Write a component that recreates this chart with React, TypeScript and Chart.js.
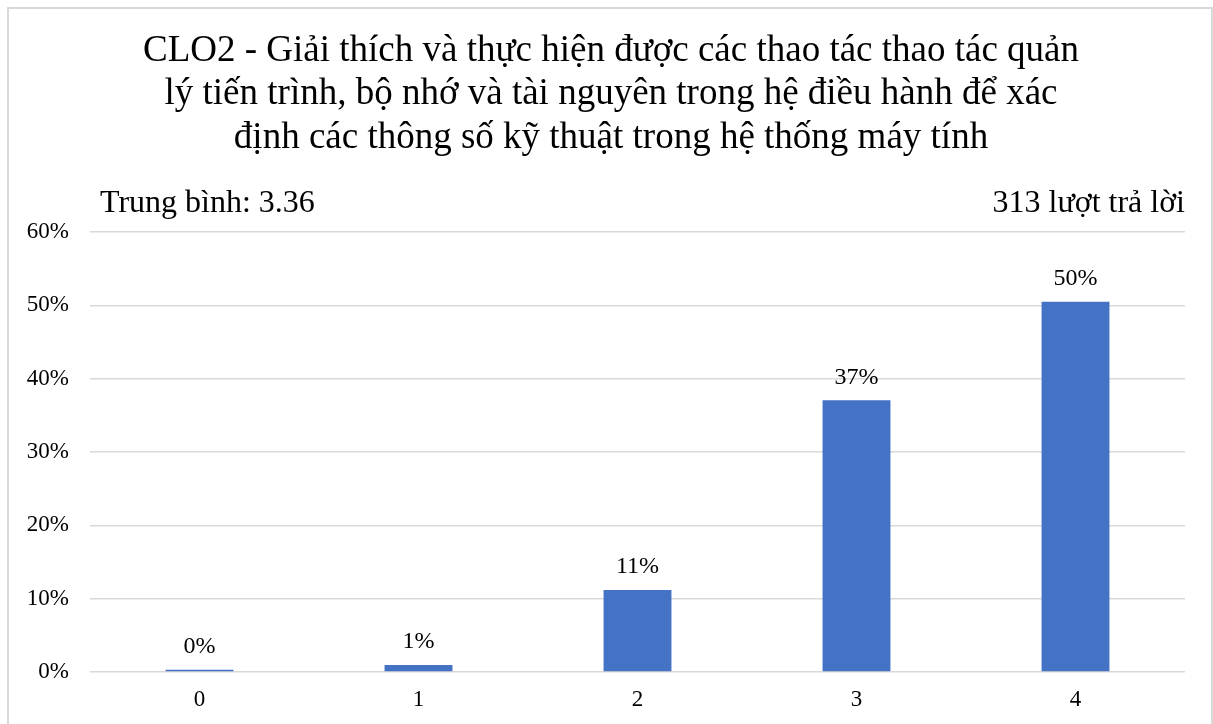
import React, { useEffect, useRef } from "react";
import { Chart, registerables } from "chart.js";

Chart.register(...registerables);

// Answer scores and the share of responses (in %) for each score
const categories = ["0", "1", "2", "3", "4"];
const shares = [0.32, 0.96, 11.18, 37.06, 50.48];

// Y axis range in %
const yMin = 0;
const yMax = 60;
const yStep = 10;

const titleLines = [
  "CLO2 - Giải thích và thực hiện được các thao tác thao tác quản",
  "lý tiến trình, bộ nhớ và tài nguyên trong hệ điều hành để xác",
  "định các thông số kỹ thuật trong hệ thống máy tính",
];
const meanLabel = "Trung bình: 3.36";
const responsesLabel = "313 lượt trả lời";

const SERIF = "'Liberation Serif', 'Times New Roman', serif";
const BAR_COLOR = "#4472C4";
const GRID_COLOR = "#d9d9d9";

const annotations = {
  id: "annotations",
  afterDatasetsDraw(chart: any) {
    const { ctx } = chart;
    const meta = chart.getDatasetMeta(0);
    ctx.save();
    ctx.fillStyle = "#000";
    ctx.font = `24px ${SERIF}`;
    ctx.textAlign = "center";
    ctx.textBaseline = "middle";
    meta.data.forEach((bar: any, i: number) => {
      const v = chart.data.datasets[0].data[i] as number;
      ctx.fillText(`${Math.round(v)}%`, bar.x, bar.y - 23);
    });
    ctx.restore();
  },
  afterDraw(chart: any) {
    const { ctx, chartArea } = chart;
    ctx.save();
    ctx.fillStyle = "#000";
    ctx.textBaseline = "middle";
    ctx.textAlign = "center";
    ctx.font = `37px ${SERIF}`;
    titleLines.forEach((line, i) => {
      ctx.fillText(line, 611, 51 + i * 43.5);
    });
    ctx.font = `32px ${SERIF}`;
    ctx.textAlign = "left";
    ctx.fillText(meanLabel, 100, 204);
    ctx.textAlign = "right";
    ctx.fillText(responsesLabel, chartArea.right, 204);
    ctx.restore();
  },
};

export default function App() {
  const canvasRef = useRef<HTMLCanvasElement | null>(null);

  useEffect(() => {
    if (!canvasRef.current) return;
    const chart = new Chart(canvasRef.current, {
      type: "bar",
      data: {
        labels: categories,
        datasets: [
          {
            data: shares,
            backgroundColor: BAR_COLOR,
            borderWidth: 0,
            categoryPercentage: 0.62,
            barPercentage: 0.5,
          },
        ],
      },
      options: {
        animation: false,
        responsive: false,
        maintainAspectRatio: false,
        layout: { padding: { left: 8, right: 28, top: 232, bottom: 0 } },
        plugins: {
          legend: { display: false },
          title: { display: false },
          tooltip: { enabled: false },
        },
        scales: {
          x: {
            grid: { display: false, drawTicks: false },
            border: { display: false },
            ticks: {
              color: "#000",
              font: { family: SERIF, size: 23 },
              padding: 14,
            },
            afterFit(scale: any) {
              scale.height = 52;
            },
          },
          y: {
            min: yMin,
            max: yMax,
            grid: { color: GRID_COLOR, lineWidth: 1.5, drawTicks: false },
            border: { display: false },
            ticks: {
              stepSize: yStep,
              color: "#000",
              font: { family: SERIF, size: 23 },
              padding: 21,
              callback: (v: any) => `${v}%`,
            },
            afterFit(scale: any) {
              scale.width = 82;
            },
          },
        },
      },
      plugins: [annotations],
    });
    return () => chart.destroy();
  }, []);

  return (
    <div
      style={{
        position: "fixed",
        left: 0,
        top: 0,
        width: 1213,
        height: 724,
        overflow: "hidden",
        background: "#fff",
      }}
    >
      <div
        style={{
          position: "absolute",
          left: 7,
          top: 7,
          width: 1206,
          height: 800,
          boxSizing: "border-box",
          border: "2px solid #d9d9d9",
        }}
      />
      <canvas
        ref={canvasRef}
        width={1213}
        height={724}
        style={{ position: "absolute", left: 0, top: 0, width: 1213, height: 724 }}
      />
    </div>
  );
}
